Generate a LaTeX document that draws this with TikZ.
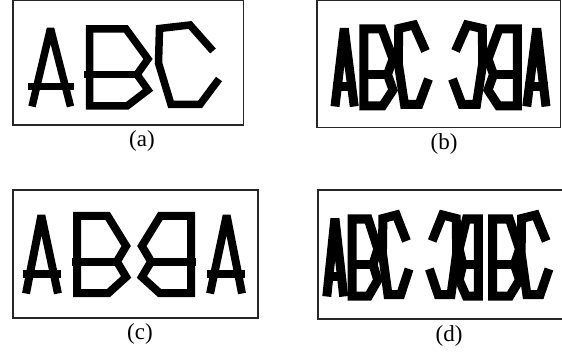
\documentclass[tikz,border=0pt]{standalone}
\usepackage{fontspec}
\setmainfont{Liberation Serif}
\newcommand\glyphA[1]{%
  \draw[#1, line join=bevel] (32,106.5) -- (50.5,28.5) -- (70.5,106.5);
  \draw[#1] (28,86.7) -- (74,86.7);}
\newcommand\glyphB[1]{%
  \draw[#1] (89.5,106) -- (89.5,29) -- (126,29) -- (148,59) -- (137,74.5) -- (148,90) -- (127,106) -- cycle;
  \draw[#1] (84,74.5) -- (137,74.5);}
\newcommand\glyphC[1]{%
  \draw[#1] (213,51) -- (190,25) -- (159.5,28.5) -- (158.5,63) -- (171,104.5) -- (200,104.5) -- (219,79);}
\begin{document}
\begin{tikzpicture}[x=1pt,y=-1pt,
  frame/.style={draw=black!85, line width=1.1pt},
  glyph/.style={line width=7.5pt, line join=miter, miter limit=2.2},
  glyphc/.style={line width=8pt, line join=miter, miter limit=2.2},
  heavyglyph/.style={line width=9pt, line join=miter, miter limit=1.6},
  sublabel/.style={font=\fontsize{23}{27}\selectfont, inner sep=0pt}]
\useasboundingbox (0,0) rectangle (562,358);
% (a)
\draw[frame] (13,0.8) rectangle (243.5,125);
\glyphA{glyph}\glyphB{glyph}\glyphC{glyph}
\node[sublabel] (la) at (142,141) {(a)};
% (b)
\draw[frame] (317,0.8) rectangle (560.5,127.5);
\begin{scope}[shift={(319,0)}, xscale=0.5]
  \glyphA{heavyglyph}\glyphB{heavyglyph}\glyphC{heavyglyph}
\end{scope}
\begin{scope}[shift={(562,0)}, xscale=-0.5]
  \glyphA{heavyglyph}\glyphB{heavyglyph}\glyphC{heavyglyph}
\end{scope}
\node[sublabel] (lb) at (444,144) {(b)};
% (c)
\draw[frame] (13,190) rectangle (258,318);
\begin{scope}[shift={(-0.56,187)}, xscale=0.83]\glyphA{glyphc}\end{scope}
\begin{scope}[shift={(1.82,187)}, xscale=0.84]\glyphB{glyphc}\end{scope}
\begin{scope}[shift={(266.2,187)}, xscale=-0.84]\glyphB{glyphc}\end{scope}
\begin{scope}[shift={(268.56,187)}, xscale=-0.83]\glyphA{glyphc}\end{scope}
\node[sublabel] (lc) at (140,334) {(c)};
% (d)
\draw[frame] (318,190) rectangle (566,319);
\begin{scope}[shift={(312.7,190)}, xscale=0.44]
  \glyphA{heavyglyph}\glyphB{heavyglyph}\glyphC{heavyglyph}
\end{scope}
\begin{scope}[shift={(528,190)}, xscale=-0.45]\glyphC{heavyglyph}\end{scope}
\begin{scope}[shift={(508,190)}, xscale=-0.33]\glyphB{heavyglyph}\end{scope}
\begin{scope}[shift={(451.4,190)}, xscale=0.46]\glyphB{heavyglyph}\end{scope}
\begin{scope}[shift={(448.2,190)}, xscale=0.46]\glyphC{heavyglyph}\end{scope}
\node[sublabel] (ld) at (449,336) {(d)};
\end{tikzpicture}
\end{document}
